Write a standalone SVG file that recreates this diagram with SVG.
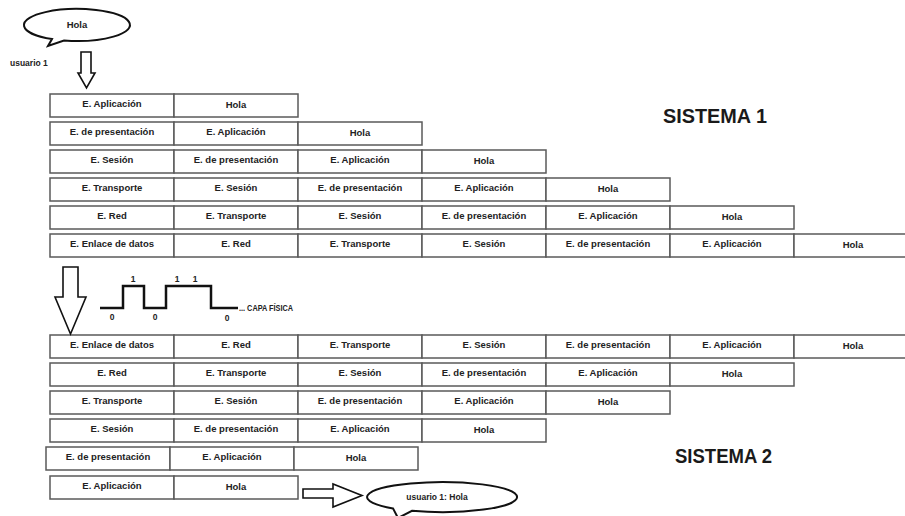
<svg xmlns="http://www.w3.org/2000/svg" width="905" height="516" viewBox="0 0 905 516">
<style>
  .c { fill: #ffffff; stroke: #5a5a5a; stroke-width: 1.5; }
  .t { font-family: "Liberation Sans", Arial, sans-serif; font-weight: bold; font-size: 9.5px; fill: #222; text-anchor: middle; }
  .s { font-family: "Liberation Sans", Arial, sans-serif; font-weight: bold; font-size: 8.5px; fill: #222; }
  .big { font-family: "Liberation Sans", Arial, sans-serif; font-weight: bold; font-size: 20px; fill: #1a1a1a; }
  .ar { fill: #ffffff; stroke: #111; stroke-width: 1.6; stroke-linejoin: miter; }
  .bub { fill: #ffffff; stroke: #111; stroke-width: 2; }
  .sig { fill: none; stroke: #111; stroke-width: 2.5; }
</style>
<defs>
  <g id="cellrow"></g>
</defs>

<!-- top speech bubble -->
<g id="bubble1">
  <path class="bub" d="M 64 40.5 A 53 16 0 1 0 52 39.1 L 48 46 Z"/>
  <text class="t" x="77" y="28">Hola</text>
</g>
<g id="user1">
  <text class="s" x="10" y="66">usuario 1</text>
</g>

<!-- SISTEMA 1 -->
<g id="sys1-row1">
  <rect class="c" x="50" y="94" width="124" height="23"/><text class="t" x="112" y="107">E. Aplicación</text>
  <rect class="c" x="174" y="94" width="124" height="23"/><text class="t" x="236" y="108">Hola</text>
</g>
<g id="sys1-row2">
  <rect class="c" x="50" y="122" width="124" height="23"/><text class="t" x="112" y="135">E. de presentación</text>
  <rect class="c" x="174" y="122" width="124" height="23"/><text class="t" x="236" y="135">E. Aplicación</text>
  <rect class="c" x="298" y="122" width="124" height="23"/><text class="t" x="360" y="136">Hola</text>
</g>
<g id="sys1-row3">
  <rect class="c" x="50" y="150" width="124" height="23"/><text class="t" x="112" y="163">E. Sesión</text>
  <rect class="c" x="174" y="150" width="124" height="23"/><text class="t" x="236" y="163">E. de presentación</text>
  <rect class="c" x="298" y="150" width="124" height="23"/><text class="t" x="360" y="163">E. Aplicación</text>
  <rect class="c" x="422" y="150" width="124" height="23"/><text class="t" x="484" y="164">Hola</text>
</g>
<g id="sys1-row4">
  <rect class="c" x="50" y="178" width="124" height="23"/><text class="t" x="112" y="191">E. Transporte</text>
  <rect class="c" x="174" y="178" width="124" height="23"/><text class="t" x="236" y="191">E. Sesión</text>
  <rect class="c" x="298" y="178" width="124" height="23"/><text class="t" x="360" y="191">E. de presentación</text>
  <rect class="c" x="422" y="178" width="124" height="23"/><text class="t" x="484" y="191">E. Aplicación</text>
  <rect class="c" x="546" y="178" width="124" height="23"/><text class="t" x="608" y="192">Hola</text>
</g>
<g id="sys1-row5">
  <rect class="c" x="50" y="206" width="124" height="23"/><text class="t" x="112" y="219">E. Red</text>
  <rect class="c" x="174" y="206" width="124" height="23"/><text class="t" x="236" y="219">E. Transporte</text>
  <rect class="c" x="298" y="206" width="124" height="23"/><text class="t" x="360" y="219">E. Sesión</text>
  <rect class="c" x="422" y="206" width="124" height="23"/><text class="t" x="484" y="219">E. de presentación</text>
  <rect class="c" x="546" y="206" width="124" height="23"/><text class="t" x="608" y="219">E. Aplicación</text>
  <rect class="c" x="670" y="206" width="124" height="23"/><text class="t" x="732" y="220">Hola</text>
</g>
<g id="sys1-row6">
  <rect class="c" x="50" y="234" width="124" height="23"/><text class="t" x="112" y="247">E. Enlace de datos</text>
  <rect class="c" x="174" y="234" width="124" height="23"/><text class="t" x="236" y="247">E. Red</text>
  <rect class="c" x="298" y="234" width="124" height="23"/><text class="t" x="360" y="247">E. Transporte</text>
  <rect class="c" x="422" y="234" width="124" height="23"/><text class="t" x="484" y="247">E. Sesión</text>
  <rect class="c" x="546" y="234" width="124" height="23"/><text class="t" x="608" y="247">E. de presentación</text>
  <rect class="c" x="670" y="234" width="124" height="23"/><text class="t" x="732" y="247">E. Aplicación</text>
  <rect class="c" x="794" y="234" width="124" height="23"/><text class="t" x="853" y="248">Hola</text>
</g>
<g id="sistema1">
  <text class="big" x="663" y="123" textLength="104" lengthAdjust="spacingAndGlyphs">SISTEMA 1</text>
</g>

<!-- physical layer -->
<g id="capa-fisica">
  <polyline class="sig" points="100,308 123,308 123,286 144,286 144,308 166,308 166,286 211,286 211,308 238,308"/>
  <text class="s" x="133" y="282" text-anchor="middle">1</text>
  <text class="s" x="177" y="282" text-anchor="middle">1</text>
  <text class="s" x="195" y="282" text-anchor="middle">1</text>
  <text class="s" x="112" y="320" text-anchor="middle">0</text>
  <text class="s" x="155" y="320" text-anchor="middle">0</text>
  <text class="s" x="227" y="321" text-anchor="middle">0</text>
  <text class="s" x="239" y="311" textLength="54" lengthAdjust="spacingAndGlyphs">... CAPA FÍSICA</text>
</g>

<!-- SISTEMA 2 -->
<g id="sys2-row1">
  <rect class="c" x="50" y="335" width="124" height="23"/><text class="t" x="112" y="348">E. Enlace de datos</text>
  <rect class="c" x="174" y="335" width="124" height="23"/><text class="t" x="236" y="348">E. Red</text>
  <rect class="c" x="298" y="335" width="124" height="23"/><text class="t" x="360" y="348">E. Transporte</text>
  <rect class="c" x="422" y="335" width="124" height="23"/><text class="t" x="484" y="348">E. Sesión</text>
  <rect class="c" x="546" y="335" width="124" height="23"/><text class="t" x="608" y="348">E. de presentación</text>
  <rect class="c" x="670" y="335" width="124" height="23"/><text class="t" x="732" y="348">E. Aplicación</text>
  <rect class="c" x="794" y="335" width="124" height="23"/><text class="t" x="853" y="349">Hola</text>
</g>
<g id="sys2-row2">
  <rect class="c" x="50" y="363" width="124" height="23"/><text class="t" x="112" y="376">E. Red</text>
  <rect class="c" x="174" y="363" width="124" height="23"/><text class="t" x="236" y="376">E. Transporte</text>
  <rect class="c" x="298" y="363" width="124" height="23"/><text class="t" x="360" y="376">E. Sesión</text>
  <rect class="c" x="422" y="363" width="124" height="23"/><text class="t" x="484" y="376">E. de presentación</text>
  <rect class="c" x="546" y="363" width="124" height="23"/><text class="t" x="608" y="376">E. Aplicación</text>
  <rect class="c" x="670" y="363" width="124" height="23"/><text class="t" x="732" y="377">Hola</text>
</g>
<g id="sys2-row3">
  <rect class="c" x="50" y="391" width="124" height="23"/><text class="t" x="112" y="404">E. Transporte</text>
  <rect class="c" x="174" y="391" width="124" height="23"/><text class="t" x="236" y="404">E. Sesión</text>
  <rect class="c" x="298" y="391" width="124" height="23"/><text class="t" x="360" y="404">E. de presentación</text>
  <rect class="c" x="422" y="391" width="124" height="23"/><text class="t" x="484" y="404">E. Aplicación</text>
  <rect class="c" x="546" y="391" width="124" height="23"/><text class="t" x="608" y="405">Hola</text>
</g>
<g id="sys2-row4">
  <rect class="c" x="50" y="419" width="124" height="23"/><text class="t" x="112" y="432">E. Sesión</text>
  <rect class="c" x="174" y="419" width="124" height="23"/><text class="t" x="236" y="432">E. de presentación</text>
  <rect class="c" x="298" y="419" width="124" height="23"/><text class="t" x="360" y="432">E. Aplicación</text>
  <rect class="c" x="422" y="419" width="124" height="23"/><text class="t" x="484" y="433">Hola</text>
</g>
<g id="sys2-row5">
  <rect class="c" x="46" y="447" width="124" height="23"/><text class="t" x="108" y="460">E. de presentación</text>
  <rect class="c" x="170" y="447" width="124" height="23"/><text class="t" x="232" y="460">E. Aplicación</text>
  <rect class="c" x="294" y="447" width="124" height="23"/><text class="t" x="356" y="461">Hola</text>
</g>
<g id="sys2-row6">
  <rect class="c" x="50" y="476" width="124" height="23"/><text class="t" x="112" y="489">E. Aplicación</text>
  <rect class="c" x="174" y="476" width="124" height="23"/><text class="t" x="236" y="490">Hola</text>
</g>
<g id="sistema2">
  <text class="big" x="675" y="463" textLength="97" lengthAdjust="spacingAndGlyphs">SISTEMA 2</text>
</g>

<!-- bottom speech bubble -->
<g id="bubble2">
  <path class="bub" d="M 412 510.8 A 75 15 0 1 0 393 508.4 L 398 518 Z"/>
  <text class="s" x="437" y="500" text-anchor="middle">usuario 1: Hola</text>
</g>

<!-- connectors -->
<g id="connectors">
  <polygon class="ar" points="81,52 91,52 91,73 95,73 86.5,88 78,73 81,73"/>
  <polygon class="ar" points="63,267 78,267 78,297 86,297 70.5,334 55,297 63,297"/>
  <polygon class="ar" points="303,489 333,489 333,484 362,495.5 333,507 333,498 303,498"/>
</g>
</svg>
